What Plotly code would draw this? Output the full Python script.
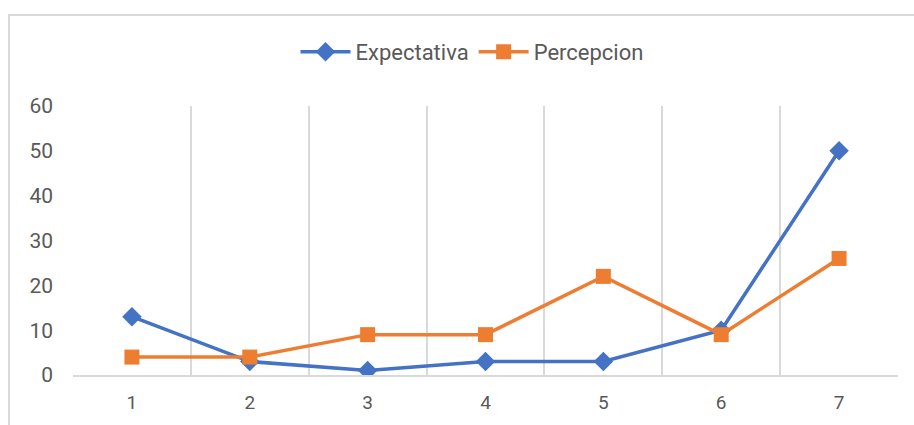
import plotly.graph_objects as go

categories = ["1", "2", "3", "4", "5", "6", "7"]
expectativa = [13, 3, 1, 3, 3, 10, 50]
percepcion = [4, 4, 9, 9, 22, 9, 26]
y_ticks = [0, 10, 20, 30, 40, 50, 60]

BLUE = "#4472C4"
ORANGE = "#ED7D31"
TXT = "#595959"
GRID = "#D9D9D9"

fig = go.Figure()
fig.add_trace(go.Scatter(
    x=categories, y=expectativa, name="Expectativa", mode="lines+markers",
    line=dict(color=BLUE, width=3.5),
    marker=dict(symbol="diamond", size=15, color=BLUE),
))
fig.add_trace(go.Scatter(
    x=categories, y=percepcion, name="Percepcion", mode="lines+markers",
    line=dict(color=ORANGE, width=3.5),
    marker=dict(symbol="square", size=15, color=ORANGE),
))

L, R, T, B = 73, 16, 106, 50
W, H = 914, 425
pw, ph = W - L - R, H - T - B

fig.update_layout(
    width=W, height=H,
    margin=dict(l=L, r=R, t=T, b=B),
    paper_bgcolor="white", plot_bgcolor="white",
    font=dict(family="Roboto, Arial, sans-serif", color=TXT, size=18),
    showlegend=True,
    legend=dict(
        orientation="h", x=(472 - L) / pw, xanchor="center", y=(H - B - 52) / ph, yanchor="middle",
        font=dict(family="Roboto, Arial, sans-serif", size=22, color=TXT),
        itemwidth=50, tracegroupgap=0,
    ),
    xaxis=dict(
        type="category", tickson="boundaries", showgrid=True, gridcolor=GRID, gridwidth=1.5,
        showline=True, linecolor=GRID, linewidth=2, ticks="", zeroline=False,
        tickfont=dict(size=19, color=TXT), ticklabelstandoff=9,
        range=[-0.5, 6.5],
    ),
    yaxis=dict(
        range=[0, 60], tickvals=y_ticks, showgrid=False, zeroline=False, showline=False,
        ticks="", tickfont=dict(size=21, color=TXT), ticklabelstandoff=19,
    ),
    shapes=[dict(
        type="rect", xref="paper", yref="paper",
        x0=(9 - L) / pw, x1=1.2, y0=-0.5, y1=(H - B - 15) / ph,
        line=dict(color=GRID, width=2), fillcolor="rgba(0,0,0,0)", layer="below",
    )],
)

fig.write_html("out.html")
